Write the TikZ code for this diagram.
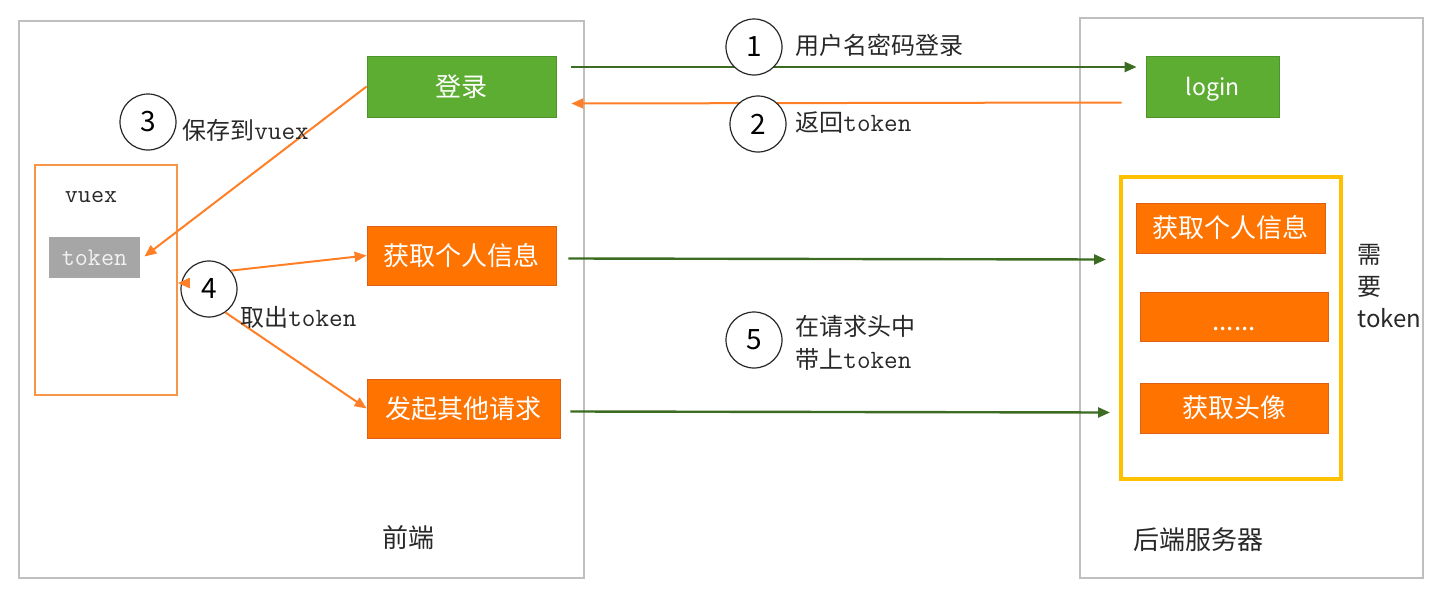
\documentclass[tikz,border=0pt]{standalone}
\usepackage{fontspec}
\setmainfont{Noto Sans CJK SC}
\setmonofont{Latin Modern Mono}[Scale=1.1]
\usepackage{tikz}
\usetikzlibrary{
  positioning,
  arrows.meta,
  calc
}
\definecolor{framegray}{RGB}{191,191,191}
\definecolor{boxgreen}{RGB}{93,173,51}
\definecolor{boxgreenline}{RGB}{78,148,44}
\definecolor{boxorange}{RGB}{255,116,0}
\definecolor{boxorangeline}{RGB}{222,96,20}
\definecolor{linegreen}{RGB}{60,108,34}
\definecolor{lineorange}{RGB}{255,127,39}
\definecolor{vuexorange}{RGB}{247,150,70}
\definecolor{needyellow}{RGB}{255,192,0}
\definecolor{tokengray}{RGB}{166,166,166}
\definecolor{labeltext}{RGB}{40,40,40}

\begin{document}
\begin{tikzpicture}[
  x=0.5pt, y=-0.5pt,
  >={Triangle[length=6pt,width=5pt]},
  font=\fontsize{13}{15}\selectfont,
  every node/.style={inner sep=0pt},
  sideframe/.style={draw=framegray, line width=0.6pt},
  greenbox/.style={draw=boxgreenline, fill=boxgreen, text=white, minimum width=94.5pt, minimum height=30.5pt},
  orangebox/.style={draw=boxorangeline, fill=boxorange, text=white, minimum width=94.5pt, minimum height=29.5pt},
  numcircle/.style={circle, draw=black!85, line width=0.6pt, fill=white, minimum size=28pt, font=\fontsize{14}{14}\selectfont},
  steplabel/.style={anchor=west, align=left, text=labeltext, font=\fontsize{12}{16.5}\selectfont},
  greenline/.style={->, draw=linegreen, line width=1.2pt},
  orangeline/.style={->, draw=lineorange, line width=1pt}
]
  \useasboundingbox (0,0) rectangle (1441,589);
  % 两侧边框
  \node[sideframe, minimum width=282.5pt, minimum height=278.5pt] (front) at (301.5,299.5) {};
  \node[sideframe, minimum width=171.5pt, minimum height=280pt] (back) at (1251.5,298) {};
  \node[text=labeltext] (qianduan) at (408,538) {前端};
  \node[text=labeltext] (houduan) at (1198,540) {后端服务器};

  % 前端
  \node[greenbox] (denglu) at (461.5,86.5) {登录};
  \node[orangebox] (info) at (461.5,255.5) {获取个人信息};
  \node[orangebox, minimum width=96.5pt] (other) at (463.5,408.5) {发起其他请求};
  \node[draw=vuexorange, line width=0.8pt, minimum width=71pt, minimum height=115pt] (vuex) at (106,280) {};
  \node[text=labeltext, font=\ttfamily\fontsize{11.5}{14}\selectfont] (vuexlabel) at (91,197) {vuex};
  \node[fill=tokengray, text=black!5, minimum width=45.5pt, minimum height=20.5pt,
        font=\ttfamily\fontsize{11.5}{14}\selectfont] (token) at (94.5,257.5) {token};

  % 后端
  \node[greenbox, minimum width=66.5pt, text height=10pt, text depth=1pt, font=\fontsize{11.5}{14}\selectfont] (login) at (1212.5,86.5) {login};
  \node[draw=needyellow, line width=2pt, minimum width=110pt, minimum height=151pt] (need) at (1231,328) {};
  \node[orangebox, minimum height=25pt] (rinfo) at (1230.5,228) {获取个人信息};
  \node[orangebox, minimum width=94pt, minimum height=24.5pt, text height=14pt, text depth=0pt] (rdots) at (1234,316.5) {......};
  \node[orangebox, minimum width=94pt, minimum height=25pt] (ravatar) at (1234,408) {获取头像};
  \node[anchor=west, align=left, text=labeltext, font=\fontsize{12}{16}\selectfont] (needtoken) at (1357,286) {需\\要\\token};

  % 连线
  \draw[greenline] ($(denglu.east)+(15,-19.5)$) -- ($(login.west)+(-9,-19.5)$);
  \draw[orangeline] ($(login.west)+(-24,16)$) -- ($(denglu.east)+(15,17)$);
  \draw[greenline] ($(info.east)+(12,3)$) -- ($(info.east -| need.west)+(-13,4)$);
  \draw[greenline] ($(other.east)+(10,3)$) -- ($(other.east -| need.west)+(-9,4)$);
  \draw[orangeline] (denglu.west) -- ($(token.east)+(4,-1)$);

  \node[numcircle] (c4) at (209,289) {4};
  \draw[orangeline] (c4.40) -- (info.west);
  \draw[orangeline] (c4.-55) -- (other.west);
  \draw[orangeline] (c4.168) -- (c4.168 -| vuex.east);

  % 步骤编号
  \node[numcircle] (c1) at (754,47) {1};
  \node[numcircle] (c2) at (758,124) {2};
  \node[numcircle] (c3) at (148,122) {3};
  \node[numcircle] (c5) at (754,340) {5};
  \node[steplabel] (s1) at (795,45) {用户名密码登录};
  \node[steplabel] (s2) at (795,123) {返回\texttt{token}};
  \node[steplabel] (s3) at (182,130) {保存到\texttt{vuex}};
  \node[steplabel] (s4) at (240,317) {取出\texttt{token}};
  \node[steplabel] (s5) at (795,343) {在请求头中\\带上\texttt{token}};
\end{tikzpicture}
\end{document}
